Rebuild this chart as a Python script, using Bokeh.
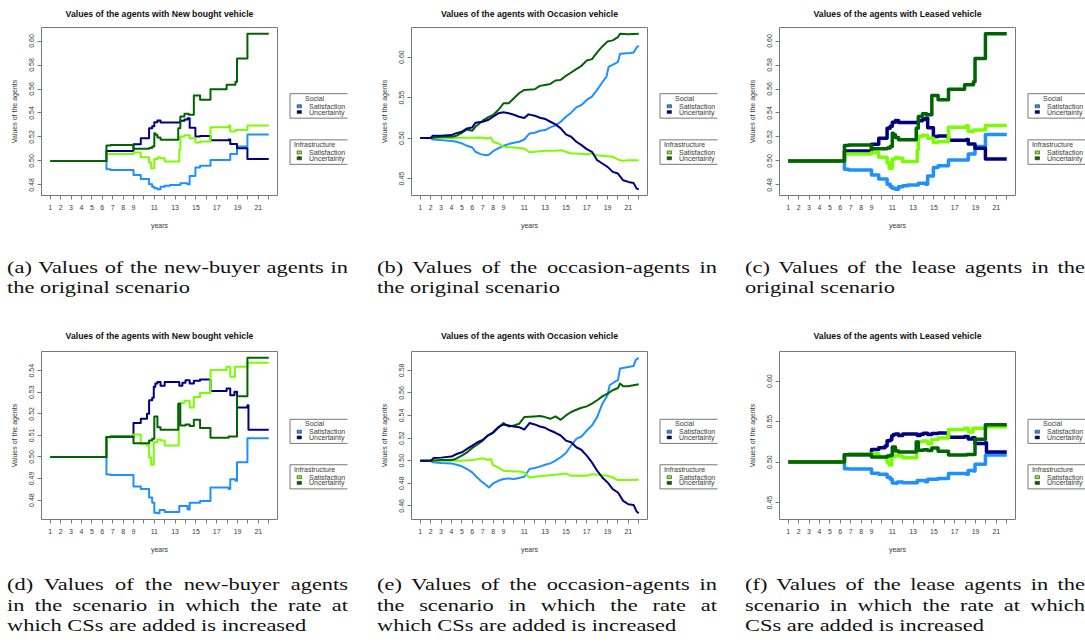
import math
from bokeh.plotting import figure
from bokeh.models import Range1d, FixedTicker, PrintfTickFormatter, Div
from bokeh.layouts import row, column
from bokeh.embed import file_html
from bokeh.resources import INLINE
from bokeh.core.properties import value

# ---------------------------------------------------------------- axis values
year_ticks = list(range(1, 23))
year_tick_labels = [str(t) if (t <= 9 or t % 2 == 1) and t != 22 else "" for t in year_ticks]

yticks_new_orig = [0.48, 0.50, 0.52, 0.54, 0.56, 0.58, 0.60]
yticks_occ_orig = [0.45, 0.50, 0.55, 0.60]
yticks_new_incr = [0.48, 0.49, 0.50, 0.51, 0.52, 0.53, 0.54]
yticks_occ_incr = [0.46, 0.48, 0.50, 0.52, 0.54, 0.56, 0.58]

# ------------------------------------------- new bought vehicle, original run
new_orig_soc_sat_x = [1, 6.4, 6.8, 9.0, 9.7, 10.5, 10.8, 11.0, 11.3, 11.6, 12.0, 12.5, 13.5, 14.2, 14.4, 14.95, 15.4, 16.4, 18.3, 18.95, 19.95, 22]
new_orig_soc_sat_y = [0.5000, 0.4931, 0.4925, 0.4884, 0.4850, 0.4806, 0.4786, 0.4772, 0.4764, 0.4786, 0.4794, 0.4800, 0.4814, 0.4806, 0.4875, 0.4945, 0.4961, 0.5009, 0.5059, 0.5120, 0.5220, 0.5220]
new_orig_soc_unc_x = [1, 6.4, 9.0, 9.7, 10.5, 10.8, 11.0, 11.3, 11.6, 13.5, 13.9, 14.2, 14.4, 14.95, 15.4, 16.4, 18.15, 18.3, 18.95, 19.95, 22]
new_orig_soc_unc_y = [0.5000, 0.5084, 0.5140, 0.5190, 0.5273, 0.5290, 0.5323, 0.5337, 0.5321, 0.5335, 0.5345, 0.5357, 0.5276, 0.5204, 0.5209, 0.5172, 0.5178, 0.5142, 0.5106, 0.5017, 0.5017]
new_orig_inf_sat_x = [1, 6.4, 9.0, 9.7, 10.5, 10.7, 11.0, 11.3, 11.6, 12.0, 13.4, 13.5, 13.9, 14.4, 14.95, 15.4, 16.4, 18.15, 18.3, 18.8, 19.95, 22]
new_orig_inf_sat_y = [0.5000, 0.5059, 0.5070, 0.5031, 0.4985, 0.4939, 0.5017, 0.5028, 0.5023, 0.4995, 0.5092, 0.5204, 0.5215, 0.5190, 0.5154, 0.5162, 0.5282, 0.5293, 0.5245, 0.5259, 0.5296, 0.5296]
new_orig_inf_unc_x = [1, 6.4, 6.8, 9.0, 10.5, 10.8, 11.0, 11.1, 11.3, 11.6, 13.3, 13.5, 13.9, 14.3, 14.8, 15.4, 16.4, 17.95, 18.8, 18.95, 19.95, 22]
new_orig_inf_unc_y = [0.5000, 0.5129, 0.5134, 0.5101, 0.5109, 0.5120, 0.5232, 0.5218, 0.5195, 0.5176, 0.5273, 0.5371, 0.5393, 0.5385, 0.5546, 0.5510, 0.5599, 0.5635, 0.5660, 0.5855, 0.6061, 0.6061]

# ------------------------------------------------ occasion vehicle, original run
occ_orig_soc_sat_x = [1, 2, 2.2, 3, 4, 4.5, 5, 5.5, 6, 6.3, 6.8, 7.3, 7.6, 8, 8.5, 9, 9.5, 10, 10.5, 11, 11.5, 12, 12.5, 13, 13.5, 14, 14.5, 15, 15.5, 16, 16.5, 17, 17.5, 18, 18.5, 18.9, 19.1, 19.8, 20, 20.2, 21.2, 21.5, 21.8, 22]
occ_orig_soc_sat_y = [0.5000, 0.5000, 0.4983, 0.4975, 0.4963, 0.4955, 0.4934, 0.4905, 0.4884, 0.4831, 0.4802, 0.4789, 0.4793, 0.4839, 0.4872, 0.4905, 0.4926, 0.4942, 0.4955, 0.4983, 0.5058, 0.5066, 0.5091, 0.5099, 0.5132, 0.5157, 0.5202, 0.5264, 0.5314, 0.5380, 0.5409, 0.5471, 0.5512, 0.5595, 0.5690, 0.5760, 0.5880, 0.5926, 0.5940, 0.6041, 0.6050, 0.6058, 0.6120, 0.6140]
occ_orig_soc_unc_x = [1, 2, 2.2, 3, 4, 4.4, 5, 5.5, 6, 6.3, 7, 7.5, 8, 8.5, 9, 9.5, 10, 10.5, 11, 11.4, 12, 12.5, 13, 13.5, 14, 14.5, 15, 15.5, 16, 16.5, 17, 17.5, 18, 18.5, 19, 19.5, 20, 20.5, 21, 21.5, 21.8, 22]
occ_orig_soc_unc_y = [0.5000, 0.5000, 0.5029, 0.5029, 0.5037, 0.5058, 0.5079, 0.5120, 0.5132, 0.5190, 0.5202, 0.5223, 0.5264, 0.5306, 0.5318, 0.5306, 0.5289, 0.5264, 0.5248, 0.5293, 0.5277, 0.5252, 0.5236, 0.5202, 0.5169, 0.5120, 0.5045, 0.5017, 0.4955, 0.4913, 0.4864, 0.4831, 0.4727, 0.4686, 0.4645, 0.4583, 0.4562, 0.4479, 0.4459, 0.4446, 0.4376, 0.4368]
occ_orig_inf_sat_x = [1, 4, 5, 6, 6.5, 7, 7.5, 7.8, 8, 8.5, 9, 10, 11, 11.5, 12, 13, 14, 14.5, 15, 15.5, 16, 17, 17.5, 18, 19, 19.5, 20, 20.5, 21, 22]
occ_orig_inf_sat_y = [0.5000, 0.5000, 0.5004, 0.5004, 0.5008, 0.5004, 0.4996, 0.5008, 0.4955, 0.4934, 0.4893, 0.4884, 0.4872, 0.4826, 0.4831, 0.4843, 0.4843, 0.4851, 0.4831, 0.4810, 0.4810, 0.4802, 0.4810, 0.4789, 0.4777, 0.4769, 0.4736, 0.4719, 0.4727, 0.4727]
occ_orig_inf_unc_x = [1, 2, 3, 4, 4.4, 5, 5.5, 6, 6.3, 7, 7.5, 8, 8.5, 9, 9.5, 10, 10.5, 11, 12, 12.5, 13, 13.5, 14, 14.5, 15, 15.5, 16, 16.5, 17, 17.5, 18, 18.5, 19, 19.5, 20, 20.2, 21, 22]
occ_orig_inf_unc_y = [0.5000, 0.5000, 0.5017, 0.5017, 0.5025, 0.5066, 0.5107, 0.5091, 0.5140, 0.5215, 0.5256, 0.5285, 0.5347, 0.5430, 0.5430, 0.5492, 0.5554, 0.5595, 0.5603, 0.5645, 0.5657, 0.5669, 0.5711, 0.5719, 0.5769, 0.5810, 0.5851, 0.5893, 0.5959, 0.5975, 0.6058, 0.6132, 0.6194, 0.6207, 0.6248, 0.6289, 0.6281, 0.6289]

# ------------------------------- new bought vehicle, faster charging-station roll-out
new_incr_soc_sat_x = [1, 6.4, 6.8, 9.0, 9.7, 10.5, 10.8, 11.0, 11.3, 11.5, 12.0, 13.4, 14.2, 14.4, 15.4, 16.4, 18.15, 18.3, 18.8, 18.95, 19.95, 22]
new_incr_soc_sat_y = [0.5000, 0.4919, 0.4916, 0.4863, 0.4851, 0.4812, 0.4788, 0.4742, 0.4739, 0.4754, 0.4745, 0.4773, 0.4757, 0.4788, 0.4796, 0.4858, 0.4851, 0.4897, 0.4890, 0.4975, 0.5087, 0.5087]
new_incr_soc_unc_x = [1, 6.4, 9.0, 9.7, 10.3, 10.5, 10.8, 10.95, 11.1, 11.3, 11.6, 12.0, 13.4, 13.7, 14.0, 14.4, 14.8, 15.4, 16.4, 17.95, 18.3, 18.7, 18.95, 19.95, 20.05, 22]
new_incr_soc_unc_y = [0.5000, 0.5092, 0.5157, 0.5177, 0.5200, 0.5263, 0.5275, 0.5325, 0.5340, 0.5348, 0.5330, 0.5348, 0.5330, 0.5344, 0.5356, 0.5341, 0.5353, 0.5359, 0.5306, 0.5317, 0.5286, 0.5302, 0.5229, 0.5240, 0.5126, 0.5126]
new_incr_inf_sat_x = [1, 6.4, 6.8, 9.0, 9.7, 10.3, 10.5, 10.7, 10.95, 11.3, 11.6, 12.0, 13.35, 13.9, 14.4, 14.8, 15.4, 16.4, 17.95, 18.3, 18.75, 19.95, 22]
new_incr_inf_sat_y = [0.5000, 0.5089, 0.5096, 0.5104, 0.5061, 0.5053, 0.4998, 0.4964, 0.5068, 0.5081, 0.5076, 0.5053, 0.5250, 0.5260, 0.5229, 0.5278, 0.5297, 0.5403, 0.5418, 0.5372, 0.5418, 0.5437, 0.5437]
new_incr_inf_unc_x = [1, 6.4, 6.8, 9.0, 10.5, 10.8, 11.0, 11.3, 11.6, 13.3, 13.5, 14.0, 14.4, 14.8, 15.4, 16.4, 18.15, 18.95, 19.95, 22]
new_incr_inf_unc_y = [0.5000, 0.5092, 0.5095, 0.5064, 0.5076, 0.5084, 0.5188, 0.5138, 0.5126, 0.5247, 0.5146, 0.5151, 0.5143, 0.5173, 0.5134, 0.5089, 0.5095, 0.5281, 0.5460, 0.5460]

# --------------------------------- occasion vehicle, faster charging-station roll-out
occ_incr_soc_sat_x = [1, 2, 2.2, 3, 4, 4.5, 5, 5.5, 6, 6.3, 6.8, 7.3, 7.6, 8, 8.5, 9, 9.5, 10, 10.5, 11, 11.5, 12, 12.5, 13, 13.5, 14, 14.5, 15, 15.5, 16, 16.5, 17, 17.5, 18, 18.5, 19, 19.2, 19.8, 20, 20.2, 21.5, 21.7, 22]
occ_incr_soc_sat_y = [0.5000, 0.5000, 0.4985, 0.4979, 0.4976, 0.4964, 0.4950, 0.4926, 0.4896, 0.4866, 0.4822, 0.4786, 0.4762, 0.4798, 0.4822, 0.4837, 0.4843, 0.4837, 0.4846, 0.4857, 0.4926, 0.4935, 0.4947, 0.4964, 0.4976, 0.5000, 0.5030, 0.5068, 0.5134, 0.5193, 0.5214, 0.5267, 0.5312, 0.5386, 0.5505, 0.5579, 0.5668, 0.5704, 0.5713, 0.5817, 0.5838, 0.5891, 0.5912]
occ_incr_soc_unc_x = [1, 2, 2.3, 3, 4, 4.5, 5, 5.5, 6, 6.5, 7, 7.5, 8, 8.5, 9, 9.5, 10, 10.5, 11, 11.5, 12, 12.5, 13, 13.5, 14, 14.5, 15, 15.5, 16, 16.5, 17, 17.5, 18, 18.5, 19, 19.5, 20, 20.5, 21, 21.5, 21.8, 22]
occ_incr_soc_unc_y = [0.5000, 0.5000, 0.5024, 0.5027, 0.5036, 0.5059, 0.5074, 0.5104, 0.5134, 0.5163, 0.5184, 0.5223, 0.5252, 0.5297, 0.5321, 0.5312, 0.5303, 0.5297, 0.5276, 0.5333, 0.5321, 0.5303, 0.5291, 0.5267, 0.5247, 0.5223, 0.5178, 0.5163, 0.5119, 0.5095, 0.5045, 0.4985, 0.4911, 0.4851, 0.4807, 0.4748, 0.4718, 0.4644, 0.4614, 0.4608, 0.4549, 0.4534]
occ_incr_inf_sat_x = [1, 5, 6, 6.5, 7, 7.5, 7.8, 8, 8.5, 9, 10, 10.5, 11, 11.5, 12, 13, 14, 15, 15.5, 16, 17, 17.5, 18, 19, 19.5, 20, 21, 22]
occ_incr_inf_sat_y = [0.5000, 0.5000, 0.5006, 0.5012, 0.5021, 0.5006, 0.5015, 0.4961, 0.4941, 0.4911, 0.4905, 0.4905, 0.4896, 0.4851, 0.4857, 0.4866, 0.4875, 0.4887, 0.4866, 0.4866, 0.4866, 0.4881, 0.4875, 0.4866, 0.4851, 0.4828, 0.4828, 0.4831]
occ_incr_inf_unc_x = [1, 2, 3, 4, 4.4, 5, 5.5, 6, 6.5, 7, 7.5, 8, 8.5, 9, 9.5, 10, 10.5, 11, 12, 12.5, 13, 13.5, 14, 14.5, 15, 15.5, 16, 16.5, 17, 17.5, 18, 18.5, 19, 19.5, 20, 20.2, 20.5, 21, 22]
occ_incr_inf_unc_y = [0.5000, 0.5000, 0.5006, 0.5006, 0.5015, 0.5045, 0.5074, 0.5113, 0.5143, 0.5178, 0.5223, 0.5244, 0.5291, 0.5333, 0.5303, 0.5312, 0.5327, 0.5386, 0.5392, 0.5395, 0.5386, 0.5371, 0.5392, 0.5362, 0.5401, 0.5431, 0.5451, 0.5469, 0.5481, 0.5505, 0.5535, 0.5570, 0.5594, 0.5624, 0.5644, 0.5683, 0.5659, 0.5659, 0.5677]

# ------------------------------------------------------------------- styling
SANS = "Liberation Sans"
SERIF = "Liberation Serif"
TEXT = "#3a3a3a"
FRAME = "#787878"
C_SOC_SAT = "#1E90FF"   # dodgerblue
C_SOC_UNC = "#000080"   # navy
C_INF_SAT = "#7CFC00"   # lawngreen
C_INF_UNC = "#006400"   # darkgreen

FRAME_W, FRAME_H = 236, 168
BORDER_L, BORDER_R, BORDER_B = 41, 6, 45


def padded(lo, hi):
    """Axis limits extended by 4% on each side."""
    pad = 0.04 * (hi - lo)
    return lo - pad, hi + pad


def data_limits(*ys):
    return padded(min(min(y) for y in ys), max(max(y) for y in ys))


X_LIM = padded(min(year_ticks), max(year_ticks))
ylim_new_orig = data_limits(new_orig_soc_sat_y, new_orig_soc_unc_y, new_orig_inf_sat_y, new_orig_inf_unc_y)
ylim_occ_orig = data_limits(occ_orig_soc_sat_y, occ_orig_soc_unc_y, occ_orig_inf_sat_y, occ_orig_inf_unc_y)
ylim_new_incr = data_limits(new_incr_soc_sat_y, new_incr_soc_unc_y, new_incr_inf_sat_y, new_incr_inf_unc_y)
ylim_occ_incr = data_limits(occ_incr_soc_sat_y, occ_incr_soc_unc_y, occ_incr_inf_sat_y, occ_incr_inf_unc_y)


def panel(title, series, ylim, yticks, lw, top, stepped):
    p = figure(title=title, frame_width=FRAME_W, frame_height=FRAME_H,
               x_range=Range1d(*X_LIM), y_range=Range1d(*ylim),
               min_border_left=BORDER_L, min_border_right=BORDER_R,
               min_border_top=top, min_border_bottom=BORDER_B,
               toolbar_location=None, output_backend="svg",
               background_fill_color="white", border_fill_color="white")
    p.grid.visible = False
    p.outline_line_color = FRAME
    p.outline_line_width = 1

    # title block fills the top border so the heading sits near the top edge
    p.title.align = "center"
    p.title.vertical_align = "top"
    p.title.text_font = SANS
    p.title.text_font_size = "8.7px"
    p.title.text_font_style = "bold"
    p.title.text_color = "#111111"
    p.title.standoff = top - 13

    xa = p.xaxis[0]
    xa.ticker = FixedTicker(ticks=year_ticks)
    xa.major_label_overrides = {t: lab for t, lab in zip(year_ticks, year_tick_labels)}
    xa.axis_label = "years"
    xa.major_label_standoff = 5

    ya = p.yaxis[0]
    ya.ticker = FixedTicker(ticks=yticks)
    ya.formatter = PrintfTickFormatter(format="%.2f")
    ya.axis_label = "Values of the agents"
    ya.major_label_orientation = "parallel"
    ya.major_label_standoff = 3

    for ax in (xa, ya):
        ax.axis_line_color = None
        ax.major_tick_line_color = FRAME
        ax.major_tick_out = 4
        ax.major_tick_in = 0
        ax.minor_tick_line_color = None
        ax.major_label_text_font = SANS
        ax.major_label_text_font_size = "7px"
        ax.major_label_text_color = TEXT
        ax.axis_label_text_font = SANS
        ax.axis_label_text_font_size = "7px"
        ax.axis_label_text_font_style = "normal"
        ax.axis_label_text_color = TEXT
        ax.axis_label_standoff = 9

    for xs, ys, color in series:
        if stepped:
            p.step(xs, ys, mode="after", line_color=color, line_width=lw, line_join="round")
        else:
            p.line(xs, ys, line_color=color, line_width=lw, line_join="round")
    return p


def legend_panel(width, height, top, box_right=64):
    p = figure(width=width, height=height, x_range=Range1d(0, width), y_range=Range1d(height, 0),
               min_border=0, toolbar_location=None, output_backend="svg",
               x_axis_location=None, y_axis_location=None,
               background_fill_color="white", border_fill_color="white")
    p.grid.visible = False
    p.outline_line_color = None
    left = 6.5
    groups = [("Social", ["Satisfaction", "Uncertainty"], [C_SOC_SAT, C_SOC_UNC], top + 67),
              ("Infrastructure", ["Satisfaction", "Uncertainty"], [C_INF_SAT, C_INF_UNC], top + 133)]
    for name, labels, colors, y0 in groups:
        yt, yb = y0 + 0.5, y0 + 35.5
        p.segment(x0=[left, left, left], y0=[yt, yb, yt], x1=[box_right, box_right, left], y1=[yt, yb, yb],
                  line_color=FRAME, line_width=1)
        p.text(x=[left + 24.5], y=[y0 + 7], text=[name], text_align="center", text_baseline="middle",
               text_font=value(SANS), text_font_size="7px", text_color=TEXT)
        ys = [y0 + 18.5, y0 + 26.8]
        p.rect(x=[left + 9.3] * 2, y=ys, width=4.4, height=4.4, fill_color=colors,
               line_color="#333333", line_width=0.6)
        p.text(x=[left + 19] * 2, y=ys, text=labels, text_align="left", text_baseline="middle",
               text_font=value(SANS), text_font_size="7px", text_color=TEXT)
    return p


CAP_SX = 1.28   # caption typeface is set wide, as in the printed figure


def caption(lines, width, left, top, height, line_height):
    inner_w = width / CAP_SX
    blocks = []
    for i, ln in enumerate(lines):
        if i < len(lines) - 1:
            style = "text-align:justify;text-align-last:justify;white-space:nowrap;"
        else:
            style = "text-align:left;white-space:nowrap;"
        blocks.append(f'<div style="{style}">{ln}</div>')
    html = (f'<div style="font-family:\'{SERIF}\';font-size:17.5px;line-height:{line_height}px;'
            f'color:#111;width:{inner_w:.2f}px;transform:scaleX({CAP_SX});transform-origin:0 0;">'
            + "".join(blocks) + "</div>")
    return Div(text=html, width=width, height=height, margin=(top, 0, 0, left))


new_orig = [(new_orig_soc_sat_x, new_orig_soc_sat_y, C_SOC_SAT),
            (new_orig_soc_unc_x, new_orig_soc_unc_y, C_SOC_UNC),
            (new_orig_inf_sat_x, new_orig_inf_sat_y, C_INF_SAT),
            (new_orig_inf_unc_x, new_orig_inf_unc_y, C_INF_UNC)]
occ_orig = [(occ_orig_soc_sat_x, occ_orig_soc_sat_y, C_SOC_SAT),
            (occ_orig_inf_sat_x, occ_orig_inf_sat_y, C_INF_SAT),
            (occ_orig_inf_unc_x, occ_orig_inf_unc_y, C_INF_UNC),
            (occ_orig_soc_unc_x, occ_orig_soc_unc_y, C_SOC_UNC)]
new_incr = [(new_incr_soc_sat_x, new_incr_soc_sat_y, C_SOC_SAT),
            (new_incr_soc_unc_x, new_incr_soc_unc_y, C_SOC_UNC),
            (new_incr_inf_sat_x, new_incr_inf_sat_y, C_INF_SAT),
            (new_incr_inf_unc_x, new_incr_inf_unc_y, C_INF_UNC)]
occ_incr = [(occ_incr_soc_sat_x, occ_incr_soc_sat_y, C_SOC_SAT),
            (occ_incr_inf_sat_x, occ_incr_inf_sat_y, C_INF_SAT),
            (occ_incr_inf_unc_x, occ_incr_inf_unc_y, C_INF_UNC),
            (occ_incr_soc_unc_x, occ_incr_soc_unc_y, C_SOC_UNC)]

T_NEW = "Values of the agents with New bought vehicle"
T_OCC = "Values of the agents with Occasion vehicle"
T_LEA = "Values of the agents with Leased vehicle"

TOP1, TOP2 = 27, 31
H1 = TOP1 + FRAME_H + BORDER_B
H2 = TOP2 + FRAME_H + BORDER_B

pa = panel(T_NEW, new_orig, ylim_new_orig, yticks_new_orig, 2, TOP1, True)
pb = panel(T_OCC, occ_orig, ylim_occ_orig, yticks_occ_orig, 2, TOP1, False)
pc = panel(T_LEA, new_orig, ylim_new_orig, yticks_new_orig, 3.5, TOP1, True)
pd = panel(T_NEW, new_incr, ylim_new_incr, yticks_new_incr, 2, TOP2, True)
pe = panel(T_OCC, occ_incr, ylim_occ_incr, yticks_occ_incr, 2, TOP2, False)
pf = panel(T_LEA, new_incr, ylim_occ_orig, yticks_occ_orig, 3.5, TOP2, True)

top_row = row(pa, legend_panel(87, H1, TOP1), pb, legend_panel(85, H1, TOP1), pc, legend_panel(64, H1, TOP1))
bottom_row = row(pd, legend_panel(87, H2, TOP2), pe, legend_panel(85, H2, TOP2), pf, legend_panel(64, H2, TOP2))

cap_top = row(
    caption(["(a) Values of the new-buyer agents in", "the original scenario"], 341, 7, 17, 63, 20),
    caption(["(b) Values of the occasion-agents in", "the original scenario"], 340, 29, 17, 63, 20),
    caption(["(c) Values of the lease agents in the", "original scenario"], 340, 28, 17, 63, 20),
)
cap_bottom = row(
    caption(["(d) Values of the new-buyer agents", "in the scenario in which the rate at",
             "which CSs are added is increased"], 341, 7, 10, 68, 20.7),
    caption(["(e) Values of the occasion-agents in", "the scenario in which the rate at",
             "which CSs are added is increased"], 340, 29, 10, 68, 20.7),
    caption(["(f) Values of the lease agents in the", "scenario in which the rate at which",
             "CSs are added is increased"], 340, 28, 10, 68, 20.7),
)

layout = column(top_row, cap_top, bottom_row, cap_bottom)

open("out.html", "w").write(file_html(layout, INLINE, title="Agent values"))
